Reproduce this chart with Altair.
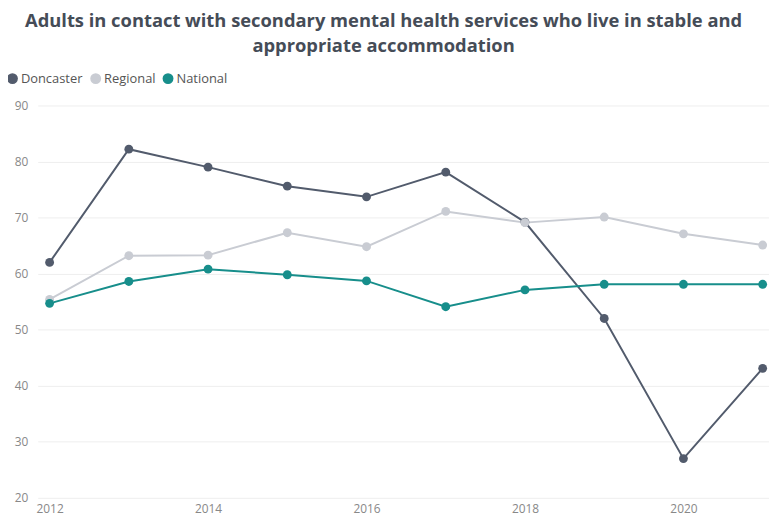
import altair as alt
import pandas as pd

years = [2012, 2013, 2014, 2015, 2016, 2017, 2018, 2019, 2020, 2021]
doncaster = [62.0, 82.2, 79.0, 75.6, 73.7, 78.1, 69.2, 52.0, 27.0, 43.1]
regional = [55.4, 63.2, 63.3, 67.3, 64.8, 71.1, 69.1, 70.1, 67.1, 65.1]
national = [54.7, 58.6, 60.8, 59.8, 58.7, 54.1, 57.1, 58.1, 58.1, 58.1]
series = ["Doncaster", "Regional", "National"]
colors = ["#525B6C", "#C9CCD3", "#178E8B"]

rows = []
for name, vals in zip(series, [doncaster, regional, national]):
    for y, v in zip(years, vals):
        rows.append({"Year": y, "Series": name, "Value": v})
df = pd.DataFrame(rows)

font = "Open Sans"
color_enc = alt.Color(
    "Series:N",
    scale=alt.Scale(domain=series, range=colors),
    sort=series,
    legend=alt.Legend(
        title=None, orient="none", direction="horizontal",
        legendX=-32, legendY=-34, symbolType="circle", symbolSize=90,
        labelFontSize=13, labelColor="#555555", labelFont=font,
        columnPadding=4, symbolOffset=0, labelOffset=2,
    ),
)

base = alt.Chart(df).encode(
    x=alt.X("Year:Q", scale=alt.Scale(domain=[2011.85, 2021.08], nice=False, zero=False),
            axis=alt.Axis(values=[2012, 2014, 2016, 2018, 2020], format="d", title=None,
                          grid=False, domain=False, ticks=False, labelFontSize=12,
                          labelColor="#888888", labelFont=font, labelPadding=6)),
    y=alt.Y("Value:Q", scale=alt.Scale(domain=[20, 90], nice=False, zero=False),
            axis=alt.Axis(values=[20, 30, 40, 50, 60, 70, 80, 90], title=None,
                          domain=False, ticks=False, labelFontSize=12, labelColor="#888888",
                          labelFont=font, labelPadding=10, gridColor="#EEEEEE")),
    color=color_enc,
    order="Year:Q",
)

lines = base.mark_line(strokeWidth=2)
points = base.mark_circle(size=80, opacity=1)

chart = (lines + points).properties(
    width=738, height=396,
    title=alt.TitleParams(
        text=["Adults in contact with secondary mental health services who live in stable and",
              "appropriate accommodation"],
        fontSize=18.5, fontWeight="bold", color="#454C57", font=font, anchor="middle",
        lineHeight=26, offset=16, dx=-20,
    ),
    autosize=alt.AutoSizeParams(type="none"),
    padding={"left": 30, "top": 96, "right": 0, "bottom": 22},
).configure_view(stroke=None)

chart.save("out.html", embed_options={"renderer": "svg", "actions": False})
